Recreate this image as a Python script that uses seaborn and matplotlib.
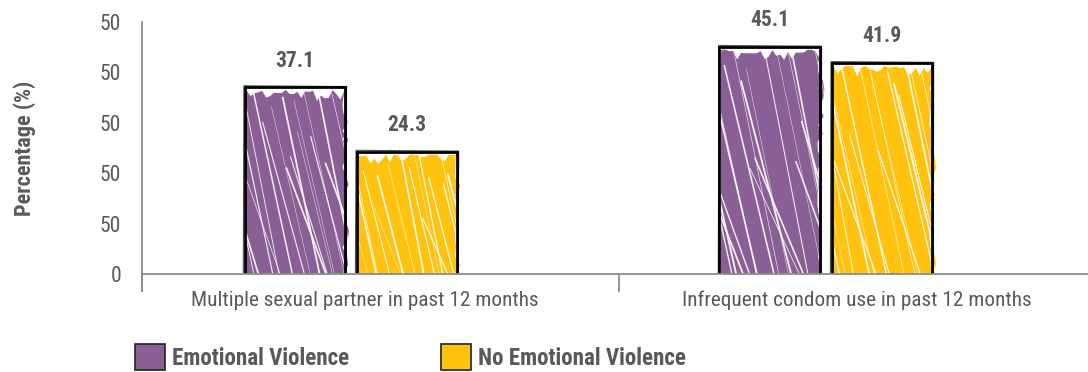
import numpy as np
import pandas as pd
import matplotlib
matplotlib.use("Agg")
import matplotlib.pyplot as plt
from matplotlib.patches import Polygon, Patch
from matplotlib.lines import Line2D
import seaborn as sns

# ---- data -------------------------------------------------------------
categories = ["Multiple sexual partner in past 12 months",
              "Infrequent condom use in past 12 months"]
groups = ["Emotional Violence", "No Emotional Violence"]
emotional_violence = [37.1, 45.1]
no_emotional_violence = [24.3, 41.9]
ytick_values = [0, 10, 20, 30, 40, 50]
ytick_labels = ["0", "50", "50", "50", "50", "50"]

colors = {"Emotional Violence": "#8a5f95", "No Emotional Violence": "#ffc20e"}
text_gray = "#58595b"
axis_gray = "#8c8c8c"

df = pd.DataFrame({
    "category": categories * 2,
    "group": [groups[0]] * 2 + [groups[1]] * 2,
    "value": emotional_violence + no_emotional_violence,
})

sns.set_theme(style="white")
plt.rcParams["font.family"] = ["Roboto Condensed", "Liberation Sans Narrow", "Roboto", "DejaVu Sans"]

fig = plt.figure(figsize=(10.88, 3.72), dpi=100)
ax = fig.add_axes([142 / 1088, 98 / 372, 946 / 1088, 252 / 372])

sns.barplot(data=df, x="category", y="value", hue="group", order=categories,
            hue_order=groups, palette=colors, width=0.472, gap=0.1,
            legend=False, ax=ax)

ax.set_xlim(-0.44, 1.5516)
ax.set_ylim(0, 50)


def jitter(k, seed):
    """Deterministic hash noise in [0, 1) for the hand-drawn texture."""
    return (np.sin(k * 12.9898 + seed * 78.233) * 43758.5453) % 1.0


def sketch_bar(patch, color, seed):
    to_px = ax.transData
    to_data = to_px.inverted()
    (x0, y0), (x1, y1) = to_px.transform(
        [[patch.get_x(), patch.get_y()],
         [patch.get_x() + patch.get_width(), patch.get_y() + patch.get_height()]])
    patch.set_facecolor("none")
    patch.set_edgecolor("none")

    # crayon fill with a ragged top and right edge
    pts = [(x0 + 1.5, y0), (x0 + 1.5, y1 - 8)]
    n = int((x1 - x0) / 4)
    for i in range(n + 1):
        xi = x0 + 2 + (x1 - x0 - 3) * i / n
        yi = y1 - 3 - 11 * jitter(i, seed) ** 2
        pts.append((xi, yi))
    m = int((y1 - y0) / 9)
    for i in range(1, m + 1):
        yi = y1 - 8 - (y1 - y0 - 8) * i / m
        xi = x1 - 3 + 7 * jitter(i + 100, seed) ** 2
        pts.append((xi, yi))
    pts.append((x1 - 3, y0))
    poly = Polygon(to_data.transform(pts), closed=True, facecolor=color,
                   edgecolor="none", zorder=2)
    ax.add_patch(poly)

    # white gaps between the strokes
    slope = 0.2
    h = y1 - y0 + 10
    xs = x0 - slope * h
    k = 0
    while xs < x1 + 5:
        xs += 3 + 9 * jitter(k + 200, seed)
        lw = 0.3 + 1.1 * jitter(k + 300, seed) ** 2
        sl = slope + 0.04 * (jitter(k + 400, seed) - 0.5)
        top = y1 + 5 - 0.6 * h * jitter(k + 500, seed) ** 3
        seg = to_data.transform([(xs, top), (xs + sl * h, y0 - 5)])
        ln = Line2D(seg[:, 0], seg[:, 1], color="white", lw=lw, alpha=0.9,
                    zorder=3, solid_capstyle="butt")
        ln.set_clip_path(poly)
        ax.add_line(ln)
        k += 1

    # rough black frame on three sides
    for off, lw, a in [(0.0, 2.0, 1.0), (1.2, 0.8, 0.7)]:
        frame = to_data.transform([(x0 - off, y0), (x0 - off * 0.5, y1 + off),
                                   (x1 + off, y1 + off * 0.4), (x1 + off * 0.6, y0)])
        ax.add_line(Line2D(frame[:, 0], frame[:, 1], color="black", lw=lw,
                           alpha=a, zorder=4, solid_joinstyle="miter"))


bar_patches = [p for p in ax.patches]
for i, p in enumerate(bar_patches):
    grp = groups[i // len(categories)]
    sketch_bar(p, colors[grp], seed=i + 1)

# value labels above bars
for container in ax.containers:
    for bar, val in zip(container, container.datavalues):
        ax.annotate(f"{val:.1f}", (bar.get_x() + bar.get_width() / 2, bar.get_height()),
                    xytext=(0, 19), textcoords="offset points", ha="center",
                    va="center", fontsize=15.5, fontweight="bold", color=text_gray)

# axes styling
for s in ["top", "right"]:
    ax.spines[s].set_visible(False)
ax.spines["left"].set_color(axis_gray)
ax.spines["bottom"].set_color(axis_gray)
ax.spines["left"].set_linewidth(1.3)
ax.spines["bottom"].set_linewidth(1.3)
ax.spines["left"].set_bounds(-2.3, 50)
ax.spines["left"].set_zorder(5)
ax.spines["bottom"].set_zorder(5)

ax.set_yticks(ytick_values, ytick_labels)
ax.tick_params(axis="y", length=0, pad=15, labelsize=15.5, labelcolor=text_gray)
ax.set_yticks([0, 50], minor=True)
ax.tick_params(axis="y", which="minor", length=6, width=1.3, color=axis_gray, left=True)

ax.set_xticks([0.03, 1.065], categories)
ax.tick_params(axis="x", length=0, pad=12, labelsize=15.3, labelcolor=text_gray)
ax.set_xticks([-0.44, 0.564], minor=True)
ax.tick_params(axis="x", which="minor", length=13, width=1.3, color=axis_gray, bottom=True)

ax.set_xlabel("")
ax.set_ylabel("Percentage (%)", fontsize=16, fontweight="bold", color=text_gray,
              labelpad=46)
ax.grid(False)

# legend below the plot
handles = [Patch(facecolor=colors[g], edgecolor="#222222", linewidth=1.2)
           for g in groups]
leg = fig.legend(handles, groups, loc="center left", bbox_to_anchor=(0.105, 0.04),
                 ncol=2, frameon=False, handlelength=1.31, handleheight=1.31,
                 handletextpad=0.3, columnspacing=3.96,
                 prop={"size": 16.6, "weight": "bold"})
for t in leg.get_texts():
    t.set_color(text_gray)

fig.savefig("out.png", dpi=100)
